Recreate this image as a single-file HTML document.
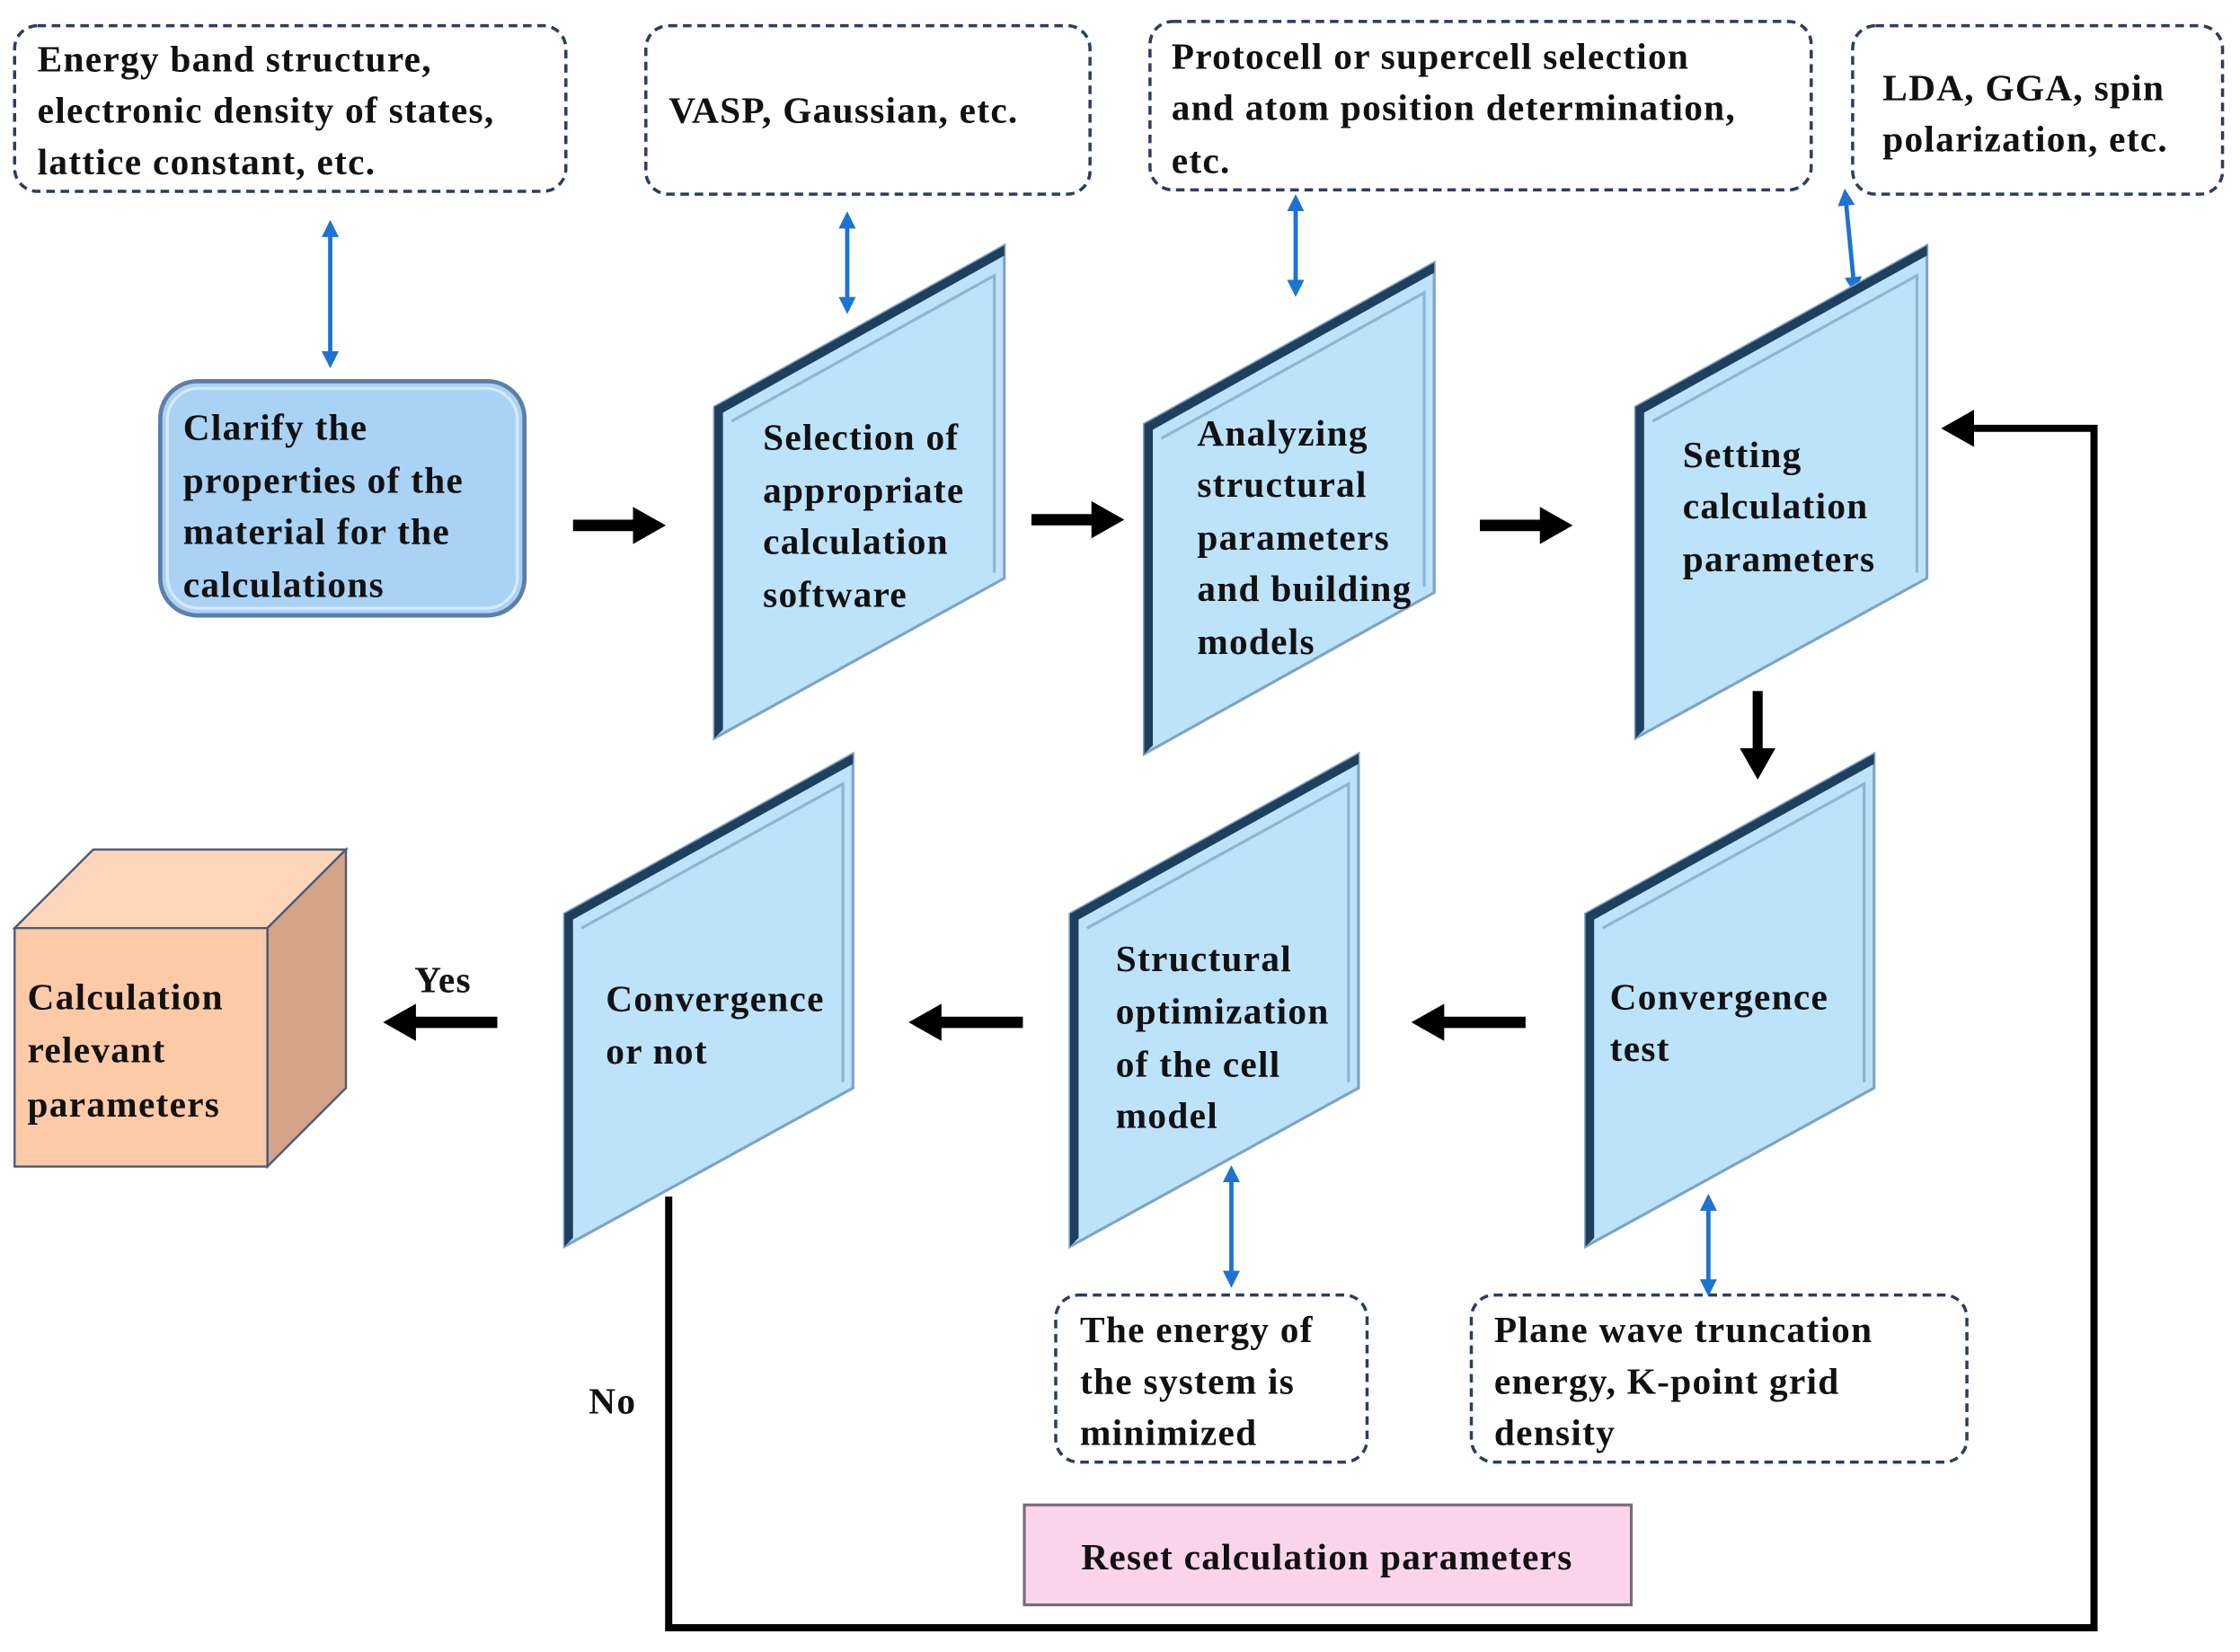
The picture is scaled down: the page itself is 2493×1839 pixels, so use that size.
<!DOCTYPE html>
<html><head><style>html,body{margin:0;padding:0;background:#fff}svg{display:block}text{font-family:"Liberation Serif","DejaVu Serif",serif;font-weight:bold;letter-spacing:0.8px}</style></head>
<body>
<svg width="2493" height="1839" viewBox="0 0 1568 1157" xmlns="http://www.w3.org/2000/svg">
<defs>
<marker id="bh" viewBox="0 0 10 10" refX="5" refY="5" markerWidth="4" markerHeight="4" orient="auto-start-reverse"><path d="M0,0L10,5L0,10z" fill="#1e73d0"/></marker>
</defs>
<g fill="none" stroke="#2b3d63" stroke-width="2.2" stroke-dasharray="6,4">
<rect x="10" y="18" width="386" height="116" rx="16"/>
<rect x="452" y="18" width="311" height="118" rx="16"/>
<rect x="805" y="15" width="463" height="118" rx="16"/>
<rect x="1297" y="18" width="259" height="118" rx="16"/>
<rect x="739" y="907" width="218" height="117" rx="16"/>
<rect x="1030" y="907" width="347" height="117" rx="16"/>
</g>
<g font-size="26" fill="#111">
<text x="26" y="50">Energy band structure,</text>
<text x="26" y="86">electronic density of states,</text>
<text x="26" y="122">lattice constant, etc.</text>
<text x="468" y="86">VASP, Gaussian, etc.</text>
<text x="820" y="48">Protocell or supercell selection</text>
<text x="820" y="84">and atom position determination,</text>
<text x="820" y="121">etc.</text>
<text x="1318" y="70">LDA, GGA, spin</text>
<text x="1318" y="106">polarization, etc.</text>
<text x="756" y="940">The energy of</text>
<text x="756" y="976">the system  is</text>
<text x="756" y="1012">minimized</text>
<text x="1046" y="940">Plane wave truncation</text>
<text x="1046" y="976">energy, K-point grid</text>
<text x="1046" y="1012">density</text>
</g>
<g stroke="#1e73d0" stroke-width="3" marker-start="url(#bh)" marker-end="url(#bh)">
<line x1="231" y1="160" x2="231" y2="252"/>
<line x1="593" y1="154" x2="593" y2="214"/>
<line x1="907" y1="142" x2="907" y2="202"/>
<line x1="1292" y1="138" x2="1298" y2="200"/>
<line x1="862" y1="822" x2="862" y2="896"/>
<line x1="1196" y1="842" x2="1196" y2="902"/>
</g>
<rect x="112" y="267" width="255" height="164" rx="26" fill="#a9d2f5" stroke="#5b7fa8" stroke-width="3"/>
<rect x="117" y="272" width="245" height="154" rx="22" fill="none" stroke="#d6ebfb" stroke-width="2"/>
<g font-size="26" fill="#111">
<text x="128" y="308">Clarify the</text>
<text x="128" y="345">properties of the</text>
<text x="128" y="381">material for the</text>
<text x="128" y="418">calculations</text>
</g>
<g>
<g transform="translate(500,285)">
<path d="M0,0L203,-113L203,120L0,232z" fill="#bde3fb" stroke="#7fa3c4" stroke-width="2"/>
<path d="M0,0L203,-113L203,-106L6,4L6,226L0,232z" fill="#1f3f5f"/>
<path d="M12,10L196,-92L196,116" fill="none" stroke="#8fb3d1" stroke-width="2"/>
</g>
<g transform="translate(801,297)">
<path d="M0,0L203,-113L203,118L0,231z" fill="#bde3fb" stroke="#7fa3c4" stroke-width="2"/>
<path d="M0,0L203,-113L203,-106L6,4L6,225L0,231z" fill="#1f3f5f"/>
<path d="M12,10L196,-92L196,114" fill="none" stroke="#8fb3d1" stroke-width="2"/>
</g>
<g transform="translate(1145,285)">
<path d="M0,0L204,-113L204,120L0,232z" fill="#bde3fb" stroke="#7fa3c4" stroke-width="2"/>
<path d="M0,0L204,-113L204,-106L6,4L6,226L0,232z" fill="#1f3f5f"/>
<path d="M12,10L197,-92L197,116" fill="none" stroke="#8fb3d1" stroke-width="2"/>
</g>
<g transform="translate(1110,640)">
<path d="M0,0L202,-112L202,122L0,233z" fill="#bde3fb" stroke="#7fa3c4" stroke-width="2"/>
<path d="M0,0L202,-112L202,-105L6,4L6,227L0,233z" fill="#1f3f5f"/>
<path d="M12,10L195,-91L195,118" fill="none" stroke="#8fb3d1" stroke-width="2"/>
</g>
<g transform="translate(749,640)">
<path d="M0,0L202,-112L202,122L0,233z" fill="#bde3fb" stroke="#7fa3c4" stroke-width="2"/>
<path d="M0,0L202,-112L202,-105L6,4L6,227L0,233z" fill="#1f3f5f"/>
<path d="M12,10L195,-91L195,118" fill="none" stroke="#8fb3d1" stroke-width="2"/>
</g>
<g transform="translate(395,640)">
<path d="M0,0L202,-112L202,122L0,233z" fill="#bde3fb" stroke="#7fa3c4" stroke-width="2"/>
<path d="M0,0L202,-112L202,-105L6,4L6,227L0,233z" fill="#1f3f5f"/>
<path d="M12,10L195,-91L195,118" fill="none" stroke="#8fb3d1" stroke-width="2"/>
</g>
</g>
<g font-size="26" fill="#111">
<text x="534" y="315">Selection of</text>
<text x="534" y="352">appropriate</text>
<text x="534" y="388">calculation</text>
<text x="534" y="425">software</text>
<text x="838" y="312">Analyzing</text>
<text x="838" y="348">structural</text>
<text x="838" y="385">parameters</text>
<text x="838" y="421">and building</text>
<text x="838" y="458">models</text>
<text x="1178" y="327">Setting</text>
<text x="1178" y="363">calculation</text>
<text x="1178" y="400">parameters</text>
<text x="1127" y="707">Convergence</text>
<text x="1127" y="743">test</text>
<text x="781" y="680">Structural</text>
<text x="781" y="717">optimization</text>
<text x="781" y="754">of the cell</text>
<text x="781" y="790">model</text>
<text x="424" y="708">Convergence</text>
<text x="424" y="745">or not</text>
</g>
<path d="M10,650L65,595L242,595L187,650z" fill="#fdd5b8" stroke="#4a5a7a" stroke-width="1.5"/>
<path d="M187,650L242,595L242,762L187,817z" fill="#d4a286" stroke="#4a5a7a" stroke-width="1.5"/>
<rect x="10" y="650" width="177" height="167" fill="#fdcaa8" stroke="#4a5a7a" stroke-width="1.5"/>
<g font-size="26" fill="#111">
<text x="19" y="707">Calculation</text>
<text x="19" y="744">relevant</text>
<text x="19" y="782">parameters</text>
<text x="290" y="695">Yes</text>
<text x="412" y="990">No</text>
</g>
<g fill="#000">
<path d="M401,364h42v-9l23,13l-23,13v-9h-42z"/>
<path d="M722,360h42v-9l23,13l-23,13v-9h-42z"/>
<path d="M1036,364h42v-9l23,13l-23,13v-9h-42z"/>
<path d="M1227,484h7v40h9l-12.5,22l-12.5,-22h9z"/>
<path d="M1068,712h-57v-9l-23,13l23,13v-9h57z"/>
<path d="M716,712h-57v-9l-23,13l23,13v-9h57z"/>
<path d="M348,712h-57v-9l-23,13l23,13v-9h57z"/>
<path d="M1382,296h-0v-9l-23,13l23,13v-9z"/>
</g>
<polyline points="468,838 468,1140 1466,1140 1466,300 1380,300" fill="none" stroke="#000" stroke-width="5"/>
<rect x="717" y="1054" width="425" height="70" fill="#fad4ec" stroke="#7a6a7a" stroke-width="2"/>
<text x="929" y="1099" font-size="26" fill="#111" text-anchor="middle">Reset calculation parameters</text>
</svg>
</body></html>
